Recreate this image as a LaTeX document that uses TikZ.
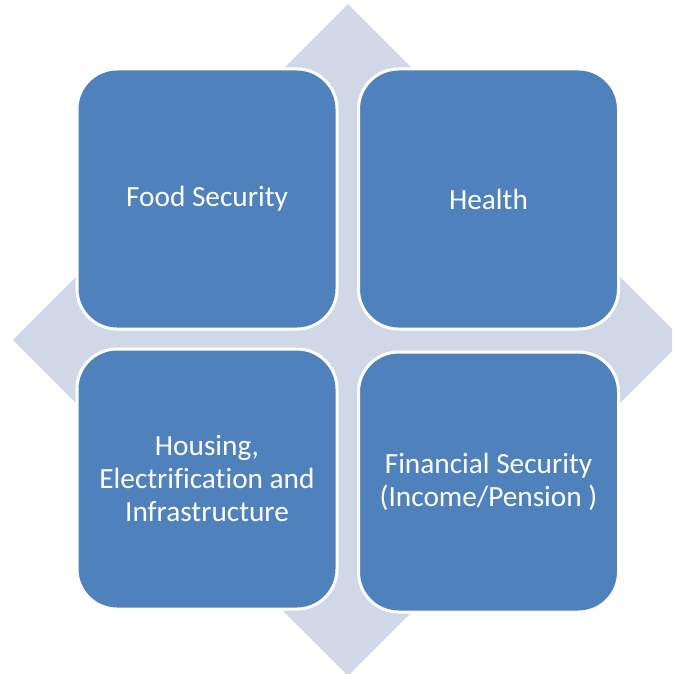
\documentclass[tikz,border=0pt]{standalone}
\usepackage{fontspec}
\setmainfont[Ligatures=NoCommon]{Carlito}
\definecolor{boxblue}{HTML}{4F81BD}
\definecolor{diam}{HTML}{D0D8E8}
\begin{document}
\begin{tikzpicture}[x=1pt,y=-1pt,
  cell/.style={draw=white, line width=3pt, fill=boxblue, rounded corners=40pt,
    minimum width=260pt, minimum height=260pt, text=white, align=center,
    font=\fontsize{29.3}{33}\selectfont, inner sep=0pt}]
\useasboundingbox (0,0) rectangle (672,674);
\begin{scope}
\clip (0,0) rectangle (672,674);
\fill[diam] (348,4) -- (683,340) -- (348,676) -- (13,340) -- cycle;
\end{scope}
\node[cell] (tl) at (207,199) {Food Security};
\node[cell] (tr) at (488.5,199) {Health};
\node[cell] (bl) at (207,479) {Housing,\\Electrification and\\Infrastructure};
\node[cell] (br) at (488.5,482) {Financial Security\\(Income/Pension )};
\end{tikzpicture}
\end{document}
